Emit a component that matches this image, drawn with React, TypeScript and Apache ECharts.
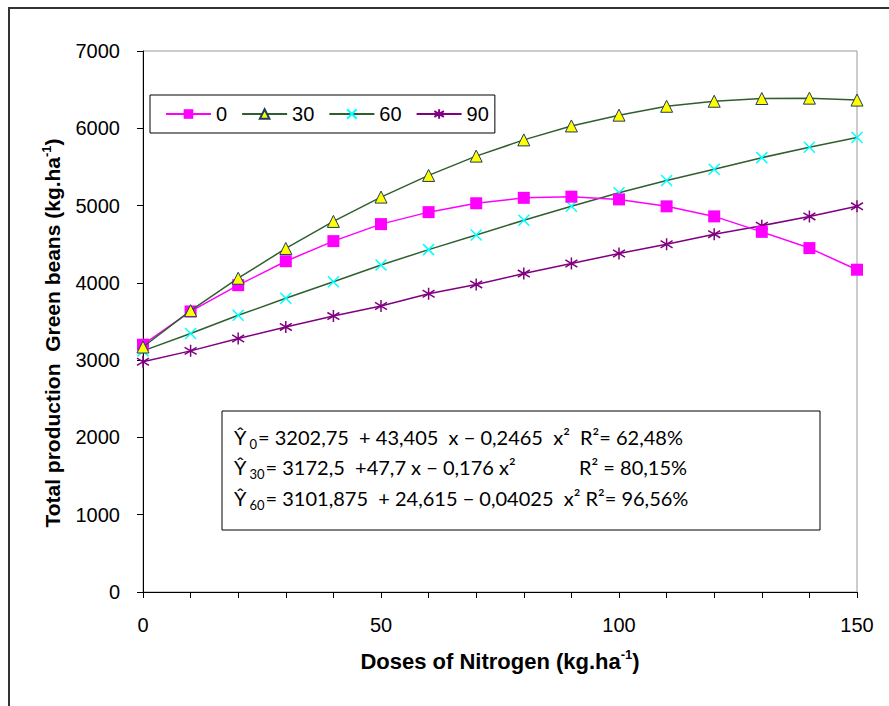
import React, { useEffect, useRef } from "react";
import * as echarts from "echarts";

const doses = [0, 10, 20, 30, 40, 50, 60, 70, 80, 90, 100, 110, 120, 130, 140, 150];
const seriesNames = ["0", "30", "60", "90"];
const values0 = [3200, 3630, 3970, 4280, 4540, 4760, 4915, 5030, 5100, 5115, 5080, 4990, 4860, 4660, 4450, 4170];
const values30 = [3170, 3640, 4060, 4445, 4795, 5110, 5390, 5640, 5850, 6030, 6170, 6285, 6350, 6385, 6390, 6365];
const values60 = [3120, 3345, 3580, 3800, 4015, 4230, 4430, 4620, 4810, 4990, 5165, 5325, 5470, 5620, 5755, 5880];
const values90 = [2980, 3120, 3280, 3430, 3570, 3700, 3860, 3980, 4120, 4250, 4380, 4500, 4630, 4740, 4860, 4990];
const yTicks = [0, 1000, 2000, 3000, 4000, 5000, 6000, 7000];
const xLabelTicks = [0, 50, 100, 150];
const equations = [
  { sub: "0", main: "= 3202,75  + 43,405  x − 0,2465  x²  R²= 62,48%", r2: "" },
  { sub: "30", main: "= 3172,5  +47,7 x − 0,176 x²", r2: "R² = 80,15%" },
  { sub: "60", main: "= 3101,875  + 24,615 − 0,04025  x² R²= 96,56%", r2: "" },
];

const pairs = (vals: number[]) => vals.map((v, i) => [doses[i], v]);

export default function App() {
  const ref = useRef<HTMLDivElement>(null);
  useEffect(() => {
    document.body.style.margin = "0";
    const chart = echarts.init(ref.current!, null, { renderer: "svg" });
    const axisFont = "'Liberation Sans', Arial, sans-serif";
    const eqFont = "Lato, 'Liberation Sans', sans-serif";
    const eqRich = {
      n: { fontFamily: eqFont, fontSize: 20, lineHeight: 26, color: "#000", verticalAlign: "middle" },
      s: { fontFamily: eqFont, fontSize: 13, lineHeight: 13, color: "#000", verticalAlign: "bottom", padding: [0, 1, 0, 3] },
    };
    const eqY = [437, 467, 498];
    const eqGraphics: any[] = [];
    equations.forEach((e, i) => {
      eqGraphics.push({
        type: "text",
        x: 234,
        y: eqY[i],
        style: {
          text: `{n|Ŷ}{s|${e.sub}}{n|${e.main}}`,
          rich: eqRich,
          verticalAlign: "middle",
          align: "left",
        },
      });
      if (e.r2) {
        eqGraphics.push({
          type: "text",
          x: 579,
          y: eqY[i],
          style: { text: `{n|${e.r2}}`, rich: eqRich, verticalAlign: "middle", align: "left" },
        });
      }
    });
    const mkRich = (size: number) => ({
      t: { fontFamily: axisFont, fontSize: size, fontWeight: "bold", color: "#000", lineHeight: size + 4, verticalAlign: "middle" },
      p: { fontFamily: axisFont, fontSize: Math.round(size * 0.6), fontWeight: "bold", color: "#000", lineHeight: size + 4, verticalAlign: "top", padding: [0, 0, 8, 0] },
    });
    const option: any = {
      animation: false,
      backgroundColor: "#fff",
      grid: { left: 143, right: 32, top: 51, bottom: 114, show: true, borderColor: "#999", borderWidth: 1 },
      legend: {
        left: 150,
        top: 95,
        padding: [9, 6, 9, 15],
        itemGap: 14,
        itemWidth: 45,
        itemHeight: 12,
        borderColor: "#000",
        borderWidth: 1,
        data: seriesNames,
        textStyle: { fontFamily: axisFont, fontSize: 20, color: "#000", padding: [0, 0, 0, 0] },
      },
      xAxis: {
        type: "value",
        min: 0,
        max: 150,
        interval: 10,
        axisLine: { show: true, lineStyle: { color: "#000", width: 1 } },
        axisTick: { show: true, length: 6, lineStyle: { color: "#000" } },
        splitLine: { show: false },
        axisLabel: {
          fontFamily: axisFont,
          fontSize: 20,
          color: "#000",
          margin: 23,
          formatter: (v: number) => (xLabelTicks.includes(v) ? String(v) : ""),
        },
      },
      yAxis: {
        type: "value",
        min: yTicks[0],
        max: yTicks[yTicks.length - 1],
        interval: 1000,
        axisLine: { show: true, lineStyle: { color: "#000", width: 1 } },
        axisTick: { show: true, length: 6, lineStyle: { color: "#000" } },
        splitLine: { show: false },
        axisLabel: { fontFamily: axisFont, fontSize: 20, color: "#000", margin: 23, formatter: (v: number) => String(v) },
      },
      graphic: [
        {
          type: "rect",
          shape: { x: 9, y: 8, width: 1000, height: 1000 },
          style: { fill: "none", stroke: "#333", lineWidth: 2 },
          silent: true,
          z: -1,
        },
        {
          type: "text",
          x: 52,
          y: 333,
          rotation: Math.PI / 2,
          style: {
            text: "{t|Total production  Green beans (kg.ha}{p|-1}{t|)}",
            rich: mkRich(21),
            align: "center",
            verticalAlign: "middle",
          },
        },
        {
          type: "text",
          x: 500,
          y: 661,
          style: {
            text: "{t|Doses of Nitrogen (kg.ha}{p|-1}{t|)}",
            rich: mkRich(22),
            align: "center",
            verticalAlign: "middle",
          },
        },
        {
          type: "rect",
          shape: { x: 222, y: 411, width: 598, height: 119 },
          style: { fill: "#fff", stroke: "#000", lineWidth: 1 },
        },
        ...eqGraphics,
      ],
      series: [
        {
          name: seriesNames[0],
          type: "line",
          data: pairs(values0),
          symbol: "rect",
          symbolSize: 12,
          lineStyle: { color: "#FF00FF", width: 1.5 },
          itemStyle: { color: "#FF00FF", borderColor: "#FF00FF", borderWidth: 0 },
          z: 3,
        },
        {
          name: seriesNames[1],
          type: "line",
          data: pairs(values30),
          symbol: "triangle",
          symbolSize: 12,
          lineStyle: { color: "#2F5F2F", width: 1.5 },
          itemStyle: { color: "#FFFF00", borderColor: "#1F3A5F", borderWidth: 1 },
          z: 4,
        },
        {
          name: seriesNames[2],
          type: "line",
          data: pairs(values60),
          symbol: "path://M0,0L10,10M10,0L0,10",
          symbolSize: 11,
          lineStyle: { color: "#2F5F2F", width: 1.5 },
          itemStyle: { color: "#00FFFF", borderColor: "#00FFFF", borderWidth: 1.5 },
          z: 2,
        },
        {
          name: seriesNames[3],
          type: "line",
          data: pairs(values90),
          symbol: "path://M5,0L5,10M0,2L10,8M10,2L0,8",
          symbolSize: 12,
          lineStyle: { color: "#800080", width: 1.5 },
          itemStyle: { color: "#800080", borderColor: "#800080", borderWidth: 1.5 },
          z: 2,
        },
      ],
    };
    chart.setOption(option);
    return () => chart.dispose();
  }, []);
  return <div ref={ref} style={{ width: 889, height: 706 }} />;
}
